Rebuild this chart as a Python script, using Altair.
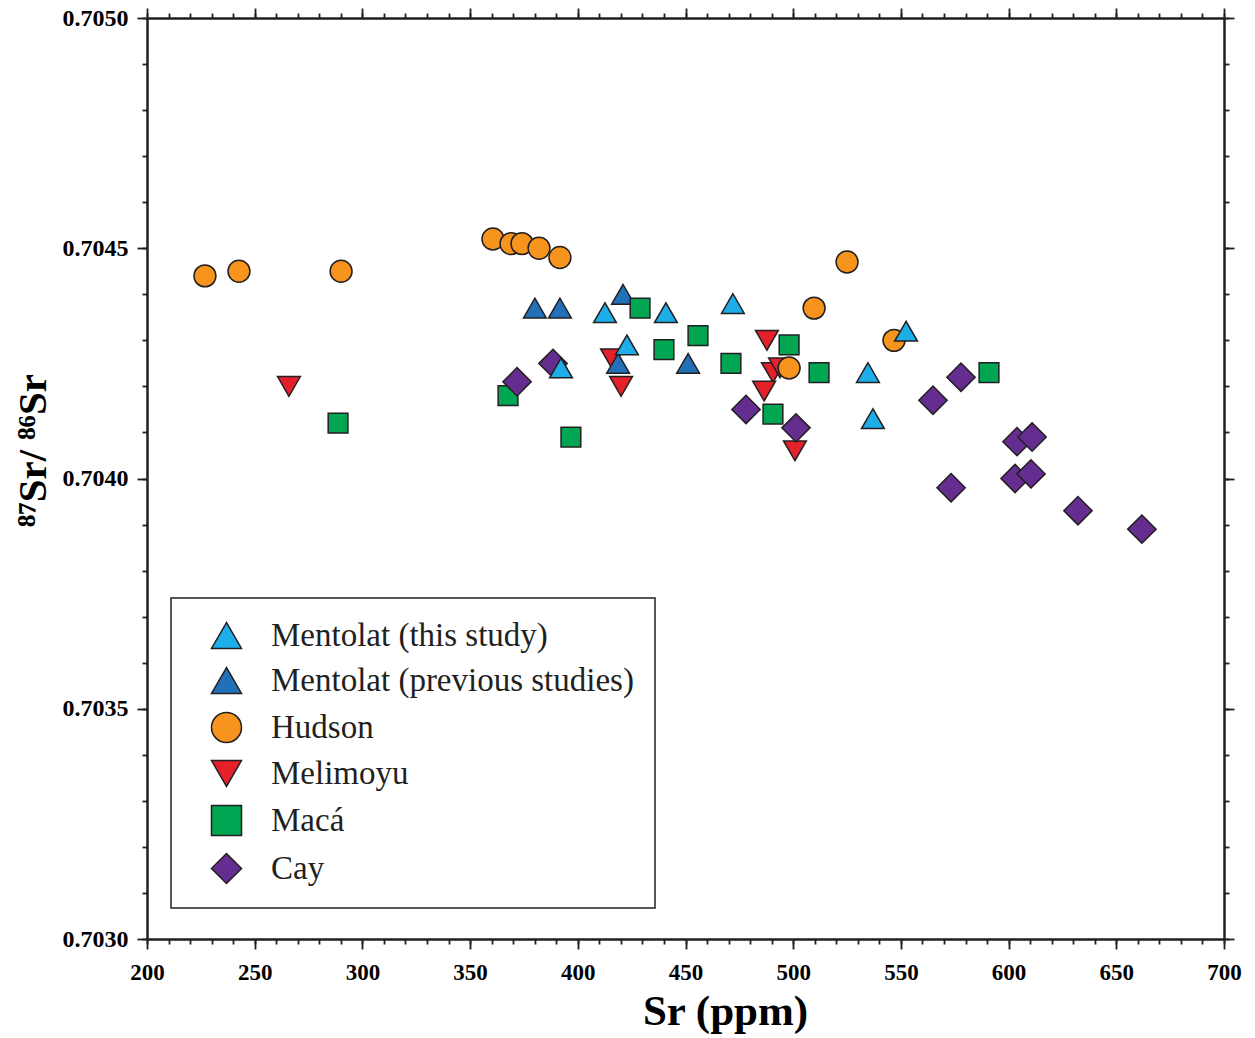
import altair as alt
import pandas as pd

groups = ["Mentolat (this study)", "Mentolat (previous studies)", "Hudson", "Melimoyu", "Macá", "Cay"]
colors = ["#1DAEEA", "#2270B8", "#F7941D", "#E4202A", "#00A651", "#662D91"]
shapes = ["triangle-up", "triangle-up", "circle", "triangle-down", "square", "diamond"]
sizes = [520, 520, 480, 520, 390, 800]
outline = ["#231F20", "#231F20", "#231F20", "#231F20", "#231F20", "#231F20"]

# drawing order (first drawn at bottom)
draw_order = ["Melimoyu", "Mentolat (previous studies)", "Macá", "Hudson", "Cay", "Mentolat (this study)"]

mentolat_this_sr = [392.2, 412.6, 422.8, 440.9, 472.0, 552.4, 534.7, 537.0]
mentolat_this_ratio = [0.70424, 0.70436, 0.70429, 0.70436, 0.70438, 0.70432, 0.70423, 0.70413]

mentolat_prev_sr = [380.1, 391.7, 421.0, 418.7, 451.2]
mentolat_prev_ratio = [0.70437, 0.70437, 0.70440, 0.70425, 0.70425]

hudson_sr = [226.9, 242.7, 290.1, 360.6, 369.0, 374.1, 382.0, 391.7, 525.0, 509.7, 546.8, 498.1]
hudson_ratio = [0.70444, 0.70445, 0.70445, 0.70452, 0.70451, 0.70451, 0.70450, 0.70448, 0.70447, 0.70437, 0.70430, 0.70424]

melimoyu_sr = [265.9, 415.9, 420.1, 487.8, 490.6, 486.5, 500.8, 493.9]
melimoyu_ratio = [0.70420, 0.70426, 0.70420, 0.70430, 0.70423, 0.70419, 0.70406, 0.70424]

maca_sr = [288.7, 367.6, 396.8, 428.9, 440.0, 455.8, 471.1, 498.1, 512.0, 490.6, 590.9]
maca_ratio = [0.70412, 0.70418, 0.70409, 0.70437, 0.70428, 0.70431, 0.70425, 0.70429, 0.70423, 0.70414, 0.70423]

cay_sr = [371.8, 388.5, 478.1, 501.3, 564.9, 577.9, 573.3, 603.9, 610.9, 603.0, 610.4, 632.2, 661.9]
cay_ratio = [0.70421, 0.70425, 0.70415, 0.70411, 0.70417, 0.70422, 0.70398, 0.70408, 0.70409, 0.70400, 0.70401, 0.70393, 0.70389]

x_major = [200, 250, 300, 350, 400, 450, 500, 550, 600, 650, 700]
x_minor = [200, 210, 220, 230, 240, 250, 260, 270, 280, 290, 300, 310, 320, 330, 340, 350,
           360, 370, 380, 390, 400, 410, 420, 430, 440, 450, 460, 470, 480, 490, 500, 510,
           520, 530, 540, 550, 560, 570, 580, 590, 600, 610, 620, 630, 640, 650, 660, 670,
           680, 690, 700]
y_major = [0.7030, 0.7035, 0.7040, 0.7045, 0.7050]
y_minor = [0.7030, 0.7031, 0.7032, 0.7033, 0.7034, 0.7035, 0.7036, 0.7037, 0.7038, 0.7039,
           0.7040, 0.7041, 0.7042, 0.7043, 0.7044, 0.7045, 0.7046, 0.7047, 0.7048, 0.7049, 0.7050]

series = {
    "Mentolat (this study)": (mentolat_this_sr, mentolat_this_ratio),
    "Mentolat (previous studies)": (mentolat_prev_sr, mentolat_prev_ratio),
    "Hudson": (hudson_sr, hudson_ratio),
    "Melimoyu": (melimoyu_sr, melimoyu_ratio),
    "Macá": (maca_sr, maca_ratio),
    "Cay": (cay_sr, cay_ratio),
}
size_of = dict(zip(groups, sizes))

rows = []
for g in draw_order:
    xs, ys = series[g]
    for xv, yv in zip(xs, ys):
        rows.append({"group": g, "sr": xv, "ratio": yv, "rank": len(rows), "sz": size_of[g]})
df = pd.DataFrame(rows)

FONT = "Liberation Serif"
INK = "#231F20"

xscale = alt.Scale(domain=[200, 700], nice=False, zero=False)
yscale = alt.Scale(domain=[0.7030, 0.7050], nice=False, zero=False)


def make_axis(orient, values, size, labels, title=None, fmt=None, label_pad=8,
              label_size=23, title_size=None, title_pad=None, title_x=None, title_y=None):
    kw = dict(orient=orient, values=values, tickSize=size, labels=labels, grid=False,
              domainColor=INK, domainWidth=2, tickColor=INK, tickWidth=1.8,
              title=title)
    if labels:
        kw.update(labelFont=FONT, labelFontSize=label_size, labelFontWeight="bold",
                  labelColor="black", labelPadding=label_pad, labelFlush=False,
                  labelOverlap=False)
    if fmt:
        kw["format"] = fmt
    if title:
        kw.update(titleFont=FONT, titleFontWeight="bold", titleColor="black",
                  titleFontSize=title_size, titlePadding=title_pad)
    if title_x is not None:
        kw["titleX"] = title_x
    if title_y is not None:
        kw["titleY"] = title_y
    return alt.Axis(**kw)


legend = alt.Legend(
    title=None, orient="none", legendX=24, legendY=580,
    strokeColor=INK, fillColor="white",
    padding=21, symbolOffset=18, labelOffset=28, rowPadding=11,
    labelFont=FONT, labelFontSize=33, labelColor="#231F20",
    symbolSize=900, symbolStrokeWidth=1.5,
    labelLimit=600,
)

x_bottom = make_axis("bottom", x_major, 10, True, title="Sr (ppm)", label_pad=12,
                     title_size=43, title_pad=6, title_x=578)
y_left = make_axis("left", y_major, 10, True, title="⁸⁷Sr/ ⁸⁶Sr", fmt=".4f", label_pad=9,
                   label_size=24, title_size=41, title_pad=8, title_y=432)

points = alt.Chart(df).mark_point(
    filled=True, strokeWidth=1.5, opacity=1, fillOpacity=1, strokeOpacity=1
).encode(
    x=alt.X("sr:Q", scale=xscale, axis=x_bottom),
    y=alt.Y("ratio:Q", scale=yscale, axis=y_left),
    fill=alt.Fill("group:N", scale=alt.Scale(domain=groups, range=colors), legend=legend),
    shape=alt.Shape("group:N", scale=alt.Scale(domain=groups, range=shapes), legend=legend),
    stroke=alt.Stroke("group:N", scale=alt.Scale(domain=groups, range=outline), legend=legend),
    size=alt.Size("sz:Q", scale=None),
    order=alt.Order("rank:Q"),
)


def ghost(xax, yax):
    return alt.Chart(df).mark_point(opacity=0).encode(
        x=alt.X("sr:Q", scale=xscale, axis=xax),
        y=alt.Y("ratio:Q", scale=yscale, axis=yax),
    )


minor_bl = ghost(make_axis("bottom", x_minor, 5, False), make_axis("left", y_minor, 5, False))
major_tr = ghost(make_axis("top", x_major, 10, False), make_axis("right", y_major, 10, False))
minor_tr = ghost(make_axis("top", x_minor, 5, False), make_axis("right", y_minor, 5, False))

chart = alt.layer(points, minor_bl, major_tr, minor_tr).resolve_axis(
    x="independent", y="independent"
).properties(
    width=1077, height=921,
    padding={"left": 12, "top": 6, "right": 10, "bottom": 10},
    background="white",
).configure_view(stroke=None).configure_legend(
    strokeWidth=1.5, symbolStrokeWidth=1.5
)

chart.save("out.html", embed_options={"renderer": "svg", "actions": False})
